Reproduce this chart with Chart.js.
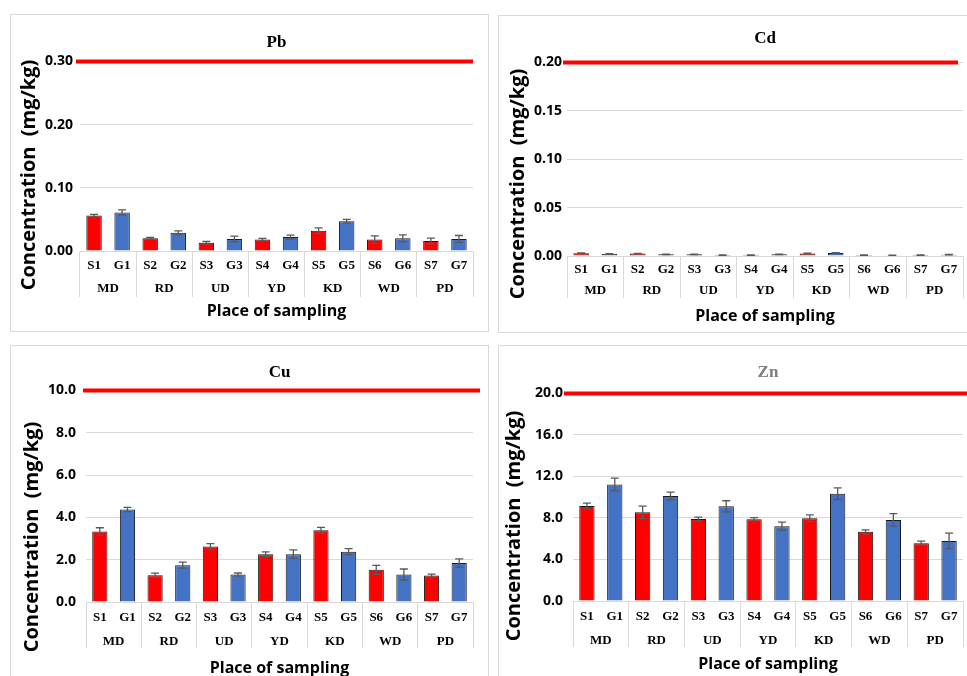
<!DOCTYPE html>
<html>
<head>
<meta charset="utf-8">
<script src="https://cdn.jsdelivr.net/npm/chart.js@4.4.0/dist/chart.umd.min.js"></script>
<style>
body{margin:0;width:967px;height:676px;overflow:hidden;background:#fff;position:relative}
.panel{position:absolute;border:1px solid #d9d9d9;box-sizing:border-box;background:#fff}
.panel canvas{position:absolute;left:-1px;top:-1px}
</style>
</head>
<body>
<div class="panel" style="left:10px;top:14px;width:479px;height:318px"><canvas id="chartPb" width="479" height="318"></canvas></div>
<div class="panel" style="left:498px;top:15px;width:480px;height:318px"><canvas id="chartCd" width="480" height="318"></canvas></div>
<div class="panel" style="left:10px;top:345px;width:479px;height:340px"><canvas id="chartCu" width="479" height="340"></canvas></div>
<div class="panel" style="left:498px;top:345px;width:480px;height:340px"><canvas id="chartZn" width="480" height="340"></canvas></div>
<script>
var samples = ['S1','G1','S2','G2','S3','G3','S4','G4','S5','G5','S6','G6','S7','G7'];
var places  = ['MD','RD','UD','YD','KD','WD','PD'];

var pbMean = [0.056,0.061,0.020,0.029,0.013,0.019,0.018,0.022,0.032,0.047,0.018,0.020,0.016,0.019];
var pbErr  = [0.002,0.004,0.0015,0.003,0.002,0.0045,0.002,0.003,0.0045,0.003,0.006,0.0055,0.0045,0.0055];
var cdMean = [0.0028,0.002,0.0025,0.0017,0.0017,0.001,0.001,0.0017,0.0025,0.003,0.001,0.0008,0.001,0.0014];
var cdErr  = [0.0004,0.0003,0.0003,0.0003,0.0003,0.0002,0.0002,0.0003,0.0004,0.0005,0.0002,0.0002,0.0002,0.0003];
var cuMean = [3.33,4.37,1.26,1.74,2.62,1.30,2.26,2.26,3.39,2.38,1.52,1.30,1.25,1.84];
var cuErr  = [0.18,0.10,0.10,0.14,0.14,0.07,0.11,0.20,0.14,0.14,0.21,0.26,0.07,0.20];
var znMean = [9.15,11.23,8.54,10.11,7.90,9.12,7.87,7.20,7.97,10.34,6.66,7.81,5.57,5.79];
var znErr  = [0.27,0.60,0.60,0.37,0.18,0.54,0.16,0.40,0.32,0.56,0.20,0.60,0.19,0.75];

var metals    = ['Pb','Cd','Cu','Zn'];
var limits    = [0.30,0.20,10.0,20.0];
var tickSteps = [0.10,0.05,2.0,4.0];
var decimals  = [2,2,1,1];

var errorBars = {
  id:'errorBars',
  afterDatasetsDraw:function(chart){
    var ctx = chart.ctx, y = chart.scales.y;
    var ds = chart.data.datasets[0];
    var meta = chart.getDatasetMeta(0);
    ctx.save();
    ctx.strokeStyle = '#595959';
    ctx.lineWidth = 1.3;
    meta.data.forEach(function(bar,i){
      var yt = y.getPixelForValue(ds.data[i] + ds.errors[i]);
      var yb = y.getPixelForValue(ds.data[i] - ds.errors[i]);
      ctx.beginPath();
      ctx.moveTo(bar.x, yt); ctx.lineTo(bar.x, yb);
      ctx.moveTo(bar.x-4, yt); ctx.lineTo(bar.x+4, yt);
      ctx.moveTo(bar.x-4, yb); ctx.lineTo(bar.x+4, yb);
      ctx.stroke();
    });
    ctx.restore();
  }
};

var limitLine = {
  id:'limitLine',
  afterDatasetsDraw:function(chart, args, opts){
    var ctx = chart.ctx, a = chart.chartArea;
    var y = chart.scales.y.getPixelForValue(opts.value);
    ctx.save();
    ctx.strokeStyle = '#ff0000';
    ctx.lineWidth = 4;
    ctx.beginPath();
    ctx.moveTo(a.left - opts.ext[0], y);
    ctx.lineTo(a.right + opts.ext[1], y);
    ctx.stroke();
    ctx.restore();
  }
};

// y axis title, drawn rotated (sits lower than chart.js would centre it)
var yTitle = {
  id:'yTitle',
  afterDraw:function(chart, args, opts){
    var ctx = chart.ctx;
    ctx.save();
    ctx.translate(opts.x, opts.y);
    ctx.rotate(-Math.PI/2);
    ctx.font = 'bold 20px "Open Sans", "Noto Sans", sans-serif';
    ctx.fillStyle = '#000';
    ctx.textAlign = 'center';
    ctx.textBaseline = 'middle';
    ctx.fillText(opts.text, 0, 0);
    ctx.restore();
  }
};

function sepColor(c){
  return (c.type === 'scale' || c.index % 2 === 0) ? '#d9d9d9' : 'rgba(0,0,0,0)';
}

function makeChart(id, k, mean, err, L){
  var colors = samples.map(function(s){ return s.charAt(0) === 'S' ? '#ff0000' : '#4472c4'; });
  var serif = {family:'"Liberation Serif", "Times New Roman", serif', weight:'bold', size:13};
  var sans  = 'Open Sans, "Noto Sans", sans-serif';
  return new Chart(document.getElementById(id), {
    type:'bar',
    data:{
      labels: samples,
      datasets:[{
        data: mean,
        errors: err,
        backgroundColor: colors,
        borderColor: '#1a1a1a',
        borderWidth: 1,
        barPercentage: 0.55,
        categoryPercentage: 1
      }]
    },
    options:{
      responsive:false,
      animation:false,
      layout:{padding:{left:0, right:L.right, top:0, bottom:L.bottom}},
      plugins:{
        legend:{display:false},
        tooltip:{enabled:false},
        title:{
          display:true, text:metals[k], fullSize:false,
          color: L.titleColor || '#000',
          font:{family:'"Liberation Serif", "Times New Roman", serif', weight:'bold', size:17},
          padding:{top:L.tTop, bottom:L.tBottom}
        },
        limitLine:{value:limits[k], ext:L.ext},
        yTitle:{text:'Concentration  (mg/kg)', x:L.ytX, y:L.ytY}
      },
      scales:{
        x:{
          weight:0,
          offset:true,
          afterFit:function(s){ s.height = L.row1; },
          grid:{offset:true, drawOnChartArea:false, drawTicks:true, tickLength:L.sep, color:sepColor, tickColor:sepColor},
          border:{display:true, color:'#d9d9d9'},
          ticks:{padding:L.sOff - L.sep, color:'#000', font:serif, maxRotation:0, autoSkip:false}
        },
        x2:{
          type:'category', labels: places, position:'bottom', weight:1,
          offset:true,
          afterFit:function(s){ s.height = L.row2; },
          grid:{display:false, drawTicks:false},
          border:{display:false},
          ticks:{padding:L.gPad, color:'#000', font:serif, maxRotation:0, autoSkip:false},
          title:{display:true, text:'Place of sampling', color:'#000',
                 font:{family:sans, weight:'bold', size:16}, padding:0}
        },
        y:{
          min:0, max:limits[k],
          afterFit:function(s){ s.width = L.yWidth; },
          grid:{color:'#d9d9d9', drawTicks:false},
          border:{display:false},
          ticks:{stepSize:tickSteps[k], padding:L.yPad, color:'#000',
                 font:{family:sans, weight:'bold', size:14},
                 callback:function(v){ return Number(v).toFixed(decimals[k]); }}
        }
      }
    },
    plugins:[limitLine, errorBars, yTitle]
  });
}

makeChart('chartPb', 0, pbMean, pbErr, {right:16, bottom:11, tTop:18, tBottom:9, row1:23, row2:47, sep:46, sOff:7, gPad:7, yWidth:70, yPad:7, ytX:19, ytY:161, ext:[4,0]});
makeChart('chartCd', 1, cdMean, cdErr, {right:15, bottom:7, tTop:13, tBottom:14, row1:22, row2:48, sep:42, sOff:6, gPad:5, yWidth:69, yPad:5, ytX:20, ytY:169, ext:[4,-5]});
makeChart('chartCu', 2, cuMean, cuErr, {right:16, bottom:7, tTop:17, tBottom:8, row1:24, row2:52, sep:46, sOff:8, gPad:8, yWidth:76, yPad:10, ytX:22, ytY:192, ext:[3,7]});
makeChart('chartZn', 3, znMean, znErr, {right:15, bottom:11, tTop:17, tBottom:11, row1:24, row2:49, sep:46, sOff:8, gPad:8, yWidth:75, yPad:10, ytX:16, ytY:181, ext:[9,15], titleColor:'#7f7f7f'});
</script>
</body>
</html>
